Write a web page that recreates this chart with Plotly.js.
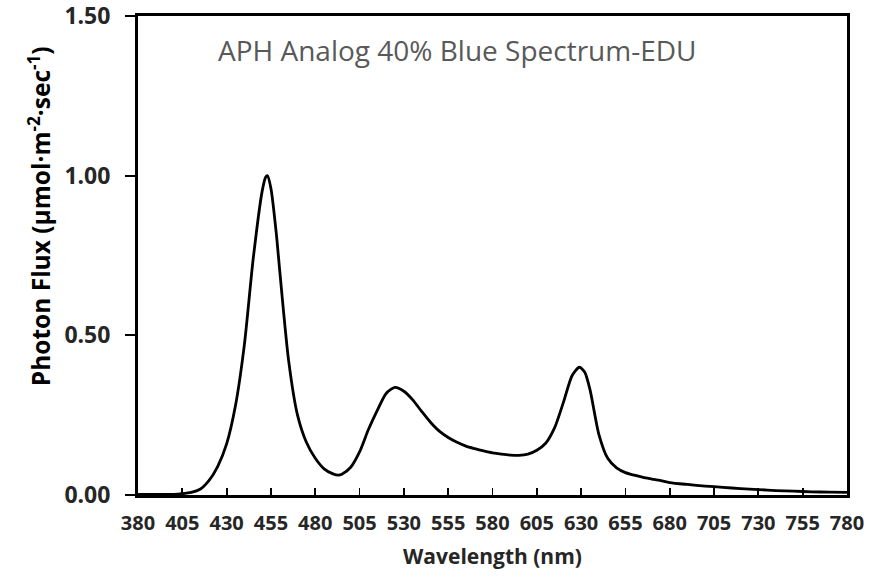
<!DOCTYPE html>
<html>
<head>
<meta charset="utf-8">
<script src="https://cdn.plot.ly/plotly-3.0.1.min.js"></script>
<style>html,body{margin:0;padding:0;background:#fff;}#chart{width:891px;height:588px;}</style>
</head>
<body>
<div id="chart"></div>
<script>
const wavelength = [380,385,390,395,400,405,410,415,420,425,430,435,440,445,450,452,453,455,458,460,465,470,475,480,485,490,493,495,500,505,510,515,520,525,530,535,540,545,550,555,560,565,570,575,580,585,590,595,600,605,610,615,620,625,629,632,635,640,645,650,655,660,665,670,675,680,690,700,710,720,730,740,750,760,770,780];
const photonFlux = [0.002,0.002,0.002,0.002,0.002,0.004,0.008,0.018,0.045,0.09,0.16,0.28,0.47,0.74,0.95,0.995,1.0,0.96,0.82,0.70,0.42,0.25,0.165,0.115,0.082,0.066,0.062,0.065,0.087,0.135,0.205,0.265,0.318,0.337,0.325,0.298,0.262,0.228,0.2,0.18,0.165,0.153,0.145,0.138,0.132,0.128,0.125,0.124,0.128,0.14,0.162,0.21,0.29,0.375,0.40,0.385,0.33,0.19,0.115,0.085,0.07,0.062,0.055,0.05,0.045,0.039,0.033,0.028,0.024,0.02,0.017,0.014,0.012,0.01,0.009,0.008];
const xTicks = [380,405,430,455,480,505,530,555,580,605,630,655,680,705,730,755,780];
const yTicks = [0,0.5,1.0,1.5];
const chartTitle = 'APH Analog 40% Blue Spectrum-EDU';
const xTitle = 'Wavelength (nm)';
const yTitle = 'Photon Flux (µmol·m<sup>-2</sup>·sec<sup>-1</sup>)';

const data = [{
  x: wavelength, y: photonFlux, type: 'scatter', mode: 'lines',
  line: {color: '#000000', width: 2.8, shape: 'spline', smoothing: 0.7},
  hoverinfo: 'skip'
}];
const layout = {
  width: 891, height: 588,
  margin: {l: 138, r: 44, t: 16, b: 93},
  paper_bgcolor: '#ffffff', plot_bgcolor: '#ffffff',
  showlegend: false,
  xaxis: {
    range: [380, 780], tickvals: xTicks, ticktext: xTicks.map(String),
    ticks: 'inside', ticklen: 7, tickwidth: 1.8, tickcolor: '#000',
    showline: true, linecolor: '#000', linewidth: 3, mirror: true,
    showgrid: false, zeroline: false,
    tickfont: {family: 'Open Sans, sans-serif', size: 20, color: '#262626', weight: 'bold'},
    ticklabelstandoff: 8, ticklabeloverflow: 'allow',
    title: {text: xTitle, font: {family: 'Open Sans, sans-serif', size: 21, color: '#262626', weight: 'bold'}, standoff: 15}
  },
  yaxis: {
    range: [0, 1.5], tickvals: yTicks, tickformat: '.2f',
    ticks: 'outside', ticklen: 10, tickwidth: 2, tickcolor: '#000',
    showline: true, linecolor: '#000', linewidth: 3, mirror: true,
    showgrid: false, zeroline: false,
    tickfont: {family: 'Open Sans, sans-serif', size: 23, color: '#262626', weight: 'bold'},
    ticklabelstandoff: 10, ticklabeloverflow: 'allow'
  },
  annotations: [{
    text: chartTitle, xref: 'paper', yref: 'paper', x: 0.45, y: 0.93,
    xanchor: 'center', yanchor: 'middle', showarrow: false,
    font: {family: 'Open Sans, sans-serif', size: 28, color: '#595959'}
  }, {
    text: yTitle, xref: 'paper', yref: 'paper', x: -0.1396, y: 0.582,
    xanchor: 'center', yanchor: 'middle', showarrow: false, textangle: -90,
    font: {family: 'Open Sans, sans-serif', size: 24.5, color: '#000', weight: 'bold'}
  }]
};
Plotly.newPlot('chart', data, layout, {displayModeBar: false, staticPlot: true});
</script>
</body>
</html>
